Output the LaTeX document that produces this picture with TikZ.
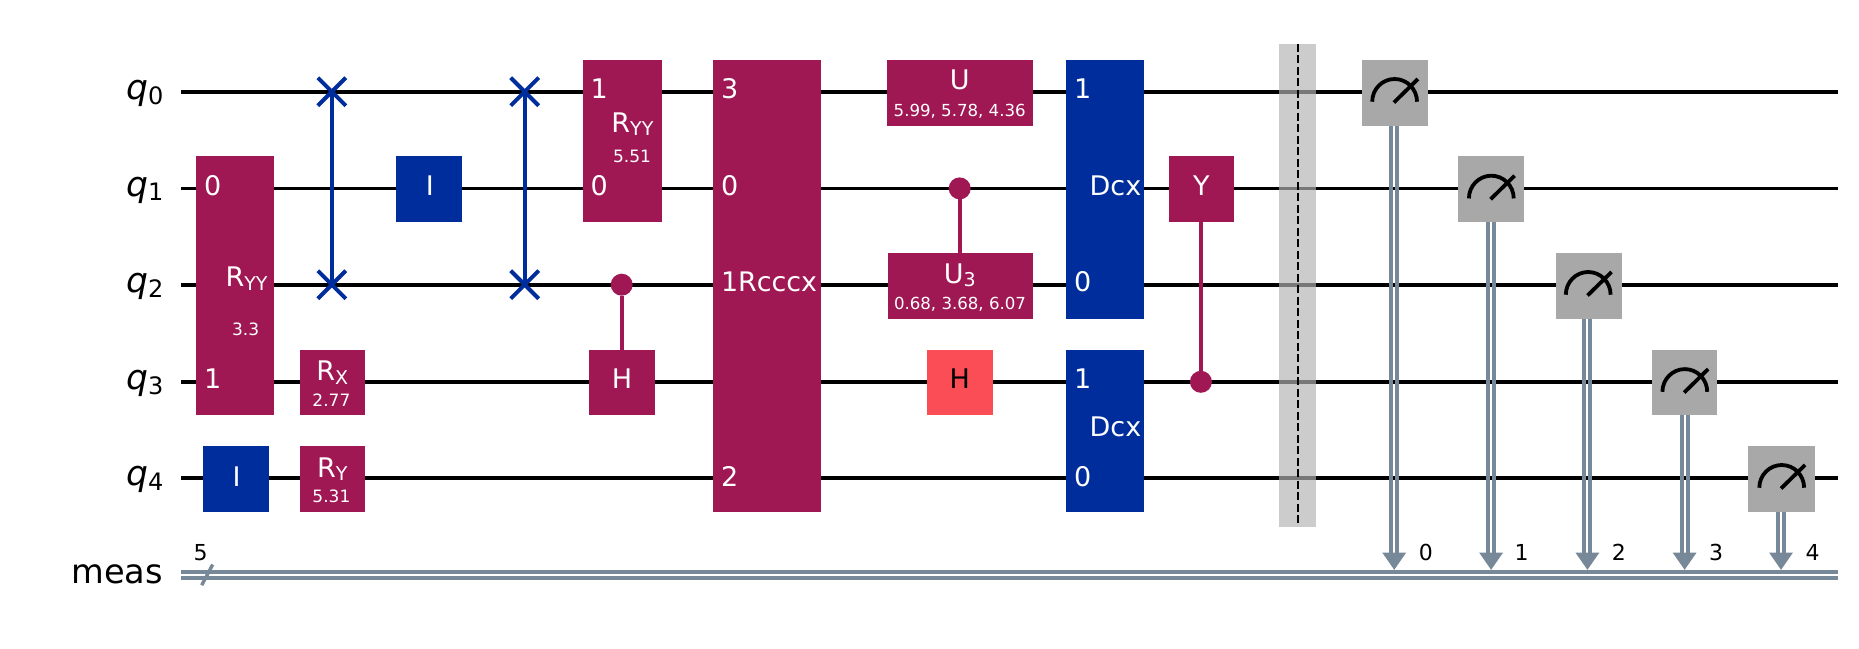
\documentclass[tikz,border=0pt]{standalone}
\usepackage{fontspec}
\setmainfont{DejaVu Sans}
\definecolor{gp}{HTML}{9F1853}
\definecolor{gb}{HTML}{002D9C}
\definecolor{gr}{HTML}{FA4D56}
\definecolor{gm}{HTML}{A8A8A8}
\definecolor{cl}{HTML}{778899}
\definecolor{bar}{HTML}{B3B3B3}
\newcounter{tc}
\tikzset{
  gatebox/.style={rectangle,inner sep=0pt,outer sep=0pt,draw=none},
  txt/.style={inner sep=0pt,outer sep=0pt,text=white},
  wire/.style={draw=black,line width=3.8pt},
  cwire/.style={draw=cl,line width=3.8pt},
  ctrlline/.style={draw=gp,line width=4pt},
  swapline/.style={draw=gb,line width=4pt},
  ctrldot/.style={circle,fill=gp,inner sep=0pt,outer sep=0pt,minimum size=22pt},
  dial/.style={draw=black,line width=3.8pt},
}
% name x1 y1 x2 y2 colour
\newcommand{\gbox}[6]{%
  \pgfmathsetmacro\gw{#4-#2}\pgfmathsetmacro\gh{#5-#3}%
  \node[gatebox,fill=#6,minimum width=\gw pt,minimum height=\gh pt] (#1) at ({(#2+#4)/2},{(#3+#5)/2}) {};}
% x y anchor size text
\newcommand{\T}[5]{\stepcounter{tc}%
  \node[txt,anchor=#3] (t\thetc) at (#1,#2) {\fontsize{#4}{#4}\selectfont #5};}
\newcommand{\RR}[1]{R\raisebox{-3.5pt}{\fontsize{19}{19}\selectfont #1}}
\newcommand{\QQ}[1]{\textcolor{black}{{\itshape q}\raisebox{-4.7pt}{\fontsize{24}{24}\selectfont #1}}}
\newcommand{\swapx}[2]{%
  \draw[swapline] (#1-14,#2-14) -- (#1+14,#2+14);
  \draw[swapline] (#1-14,#2+14) -- (#1+14,#2-14);}
\newcommand{\meter}[2]{%
  \draw[dial] (#1-22.4,#2+10) .. controls (#1-22.4,#2-2.5) and (#1-12.4,#2-12.7) .. (#1,#2-12.7)
     .. controls (#1+12.4,#2-12.7) and (#1+22.4,#2-2.5) .. (#1+22.4,#2+10);
  \draw[dial] (#1-0.7,#2+10.8) -- (#1+23.3,#2-12.7);}
\begin{document}
\begin{tikzpicture}[x=1pt,y=-1pt]
\fill[white] (0,0) rectangle (1859,648);
\useasboundingbox (0,0) rectangle (1859,648);

% wires
\foreach \n/\y in {0/91.7,1/188.4,2/284.7,3/381.8,4/477.7}{
  \coordinate (wl\n) at (181,\y);
  \coordinate (wr\n) at (1838,\y);
  \draw[wire] (wl\n) -- (wr\n);
}
\coordinate (cl1) at (181,572.3);\coordinate (cr1) at (1838,572.3);
\coordinate (cl2) at (181,577.7);\coordinate (cr2) at (1838,577.7);
\draw[cwire] (cl1) -- (cr1);
\draw[cwire] (cl2) -- (cr2);
\coordinate (sl1) at (201.7,585.2);\coordinate (sl2) at (212.7,564.5);
\draw[draw=cl,line width=3.4pt] (sl1) -- (sl2);

% register labels
\T{163.5}{99.5}{base east}{34.5}{\QQ{0}}
\T{163.5}{196.2}{base east}{34.5}{\QQ{1}}
\T{163.5}{292.5}{base east}{34.5}{\QQ{2}}
\T{163.5}{389.6}{base east}{34.5}{\QQ{3}}
\T{163.5}{485.5}{base east}{34.5}{\QQ{4}}
\T{163}{583.5}{base east}{33.6}{\textcolor{black}{meas}}
\T{200.5}{560}{base}{22}{\textcolor{black}{5}}

% gates
\gbox{ryya}{196.1}{155.8}{274.4}{414.5}{gp}
\T{204}{195.2}{base west}{27}{0}
\T{204}{388.6}{base west}{27}{1}
\T{246.5}{286.8}{base}{27}{\RR{YY}}
\T{245.7}{335.6}{base}{17}{3.3}

\gbox{ia}{202.8}{445.9}{268.9}{511.6}{gb}
\T{236.5}{486}{base}{27}{I}

\gbox{rx}{300.1}{350}{365}{414.5}{gp}
\T{332.2}{380.6}{base}{27}{\RR{X}}
\T{331.4}{406.2}{base}{17}{2.77}
\gbox{ry}{300.1}{445.9}{365}{511.6}{gp}
\T{332.2}{477.3}{base}{27}{\RR{Y}}
\T{331.4}{502}{base}{17}{5.31}

\coordinate (swa0) at (331.8,91.7);\coordinate (swa2) at (331.8,284.7);
\draw[swapline] (swa0) -- (swa2);
\swapx{331.8}{91.7}\swapx{331.8}{284.7}

\gbox{ib}{395.8}{155.8}{461.8}{221.5}{gb}
\T{429.8}{195.5}{base}{27}{I}

\coordinate (swb0) at (524.7,91.7);\coordinate (swb2) at (524.7,284.7);
\draw[swapline] (swb0) -- (swb2);
\swapx{524.7}{91.7}\swapx{524.7}{284.7}

\gbox{ryyb}{582.8}{59.9}{661.9}{221.5}{gp}
\T{590.5}{98.4}{base west}{27}{1}
\T{590.5}{195.2}{base west}{27}{0}
\T{632.4}{132.2}{base}{27}{\RR{YY}}
\T{632}{162}{base}{17}{5.51}

\gbox{ha}{589.2}{350}{655.2}{414.5}{gp}
\T{622}{388.5}{base}{27}{H}
\node[ctrldot] (ca) at (621.7,284.7) {};
\draw[ctrlline] (ca) -- (621.7,350);

\gbox{rc}{712.9}{59.9}{820.9}{511.6}{gp}
\T{721}{98.4}{base west}{27}{3}
\T{721}{195.2}{base west}{27}{0}
\T{721}{291.5}{base west}{26.9}{1Rcccx}
\T{721}{486}{base west}{27}{2}

\gbox{u}{886.9}{59.9}{1032.8}{126}{gp}
\T{959.7}{89.8}{base}{27}{U}
\T{959.7}{116.5}{base}{16.6}{5.99, 5.78, 4.36}

\gbox{utr}{888.1}{252.9}{1032.8}{318.6}{gp}
\T{959.7}{283}{base}{27}{U\raisebox{-3.5pt}{\fontsize{19}{19}\selectfont 3}}
\T{960}{309.5}{base}{16.6}{0.68, 3.68, 6.07}
\node[ctrldot] (cb) at (959.7,188.4) {};
\draw[ctrlline] (cb) -- (959.7,252.9);

\gbox{hb}{926.8}{350}{992.9}{414.5}{gr}
\T{959.7}{388.5}{base}{27}{\textcolor{black}{H}}

\gbox{da}{1066}{59.9}{1143.9}{318.6}{gb}
\T{1074}{98.4}{base west}{27}{1}
\T{1074}{291.5}{base west}{27}{0}
\T{1115.5}{195}{base}{27}{Dcx}
\gbox{db}{1066}{350}{1143.9}{511.6}{gb}
\T{1074}{388.6}{base west}{27}{1}
\T{1074}{486}{base west}{27}{0}
\T{1115.5}{436.4}{base}{27}{Dcx}

\gbox{yg}{1168.8}{155.8}{1234}{221.5}{gp}
\T{1201.3}{195}{base}{27}{Y}
\node[ctrldot] (cc) at (1200.9,381.8) {};
\draw[ctrlline] (cc) -- (1200.9,221.5);

% barrier
\gbox{brr}{1279.1}{43.8}{1315.9}{526.5}{bar,fill opacity=.67}
\coordinate (bt) at (1297.7,43.8);\coordinate (bb) at (1297.7,526.5);
\draw[black,line width=2.4pt,dash pattern=on 8pt off 3.5pt] (bt) -- (bb);

% measures
\foreach \n/\xa/\xb/\ya/\yb/\mx/\ax/\wy/\lx/\ll in {
 0/1362.2/1428.2/59.9/126/1394.6/1394.2/91.7/1425.8/0,
 1/1458.3/1523.9/155.8/221.5/1491.3/1491.1/188.4/1521.5/1,
 2/1555.5/1621.6/252.9/318.6/1588.2/1587.4/284.7/1618.8/2,
 3/1652.3/1717.3/350/414.5/1684.8/1684.6/381.8/1716/3,
 4/1748.4/1814.9/445.9/511.6/1781.7/1781/477.7/1812.6/4}{
  \coordinate (at\n) at (\ax,\yb);
  \coordinate (ab\n) at (\ax,553);
  \coordinate (tip\n) at (\ax,569.8);
  \draw[draw=cl,line width=4pt] ([xshift=-3pt]at\n) -- ([xshift=-3pt]ab\n);
  \draw[draw=cl,line width=4pt] ([xshift=3pt]at\n) -- ([xshift=3pt]ab\n);
  \fill[cl] ([xshift=-12pt,yshift=0.5pt]ab\n) -- ([xshift=12pt,yshift=0.5pt]ab\n) -- (tip\n) -- cycle;
  \gbox{m\n}{\xa}{\ya}{\xb}{\yb}{gm}
  \meter{\mx}{\wy}
  \node[txt,text=black,anchor=base] (lb\n) at (\lx,560.8) {\fontsize{22}{22}\selectfont \ll};
}
\end{tikzpicture}
\end{document}
